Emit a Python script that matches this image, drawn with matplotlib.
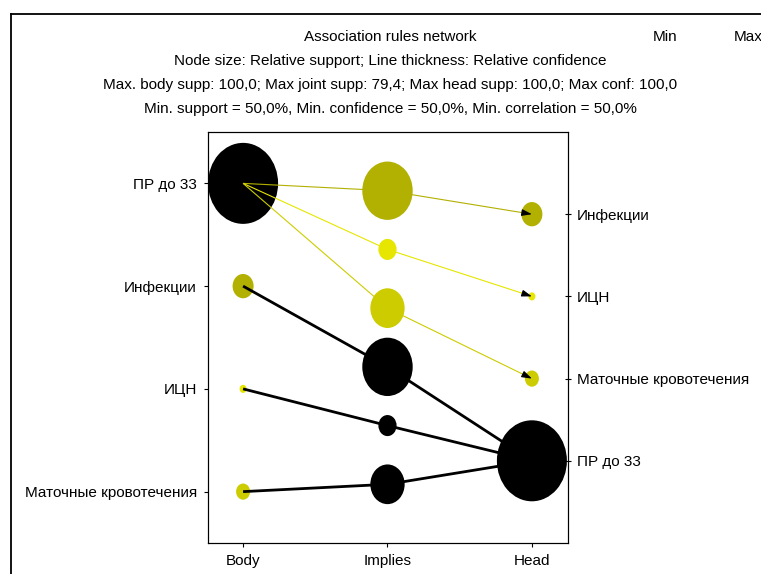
import matplotlib
matplotlib.use('Agg')
import matplotlib.pyplot as plt
from matplotlib.patches import Ellipse
from matplotlib.lines import Line2D

plt.rcParams['font.family'] = ['Liberation Sans', 'DejaVu Sans']

# items, top to bottom
body_labels = ['ПР до 33', 'Инфекции', 'ИЦН', 'Маточные кровотечения']
head_labels = ['Инфекции', 'ИЦН', 'Маточные кровотечения', 'ПР до 33']
body_supp = [100, 30, 10, 20]
head_supp = [30, 10, 20, 100]
body_colors = ['#000000', '#b2b000', '#e6e600', '#cccc00']
head_colors = ['#b2b000', '#e6e600', '#cccc00', '#000000']

# rules: (body index, head index), joint support, confidence colour, line width
rule_body = [0, 0, 0, 1, 2, 3]
rule_head = [0, 1, 2, 3, 3, 3]
rule_supp = [72, 26, 49, 72, 26, 49]
rule_colors = ['#b2b000', '#e6e600', '#cccc00', '#000000', '#000000', '#000000']
rule_width = [0.8, 0.8, 0.8, 2.0, 2.0, 2.0]

FS = 11

fig = plt.figure(figsize=(7.61, 5.74), dpi=100)
ax = fig.add_axes([208/761, 1-543/574, 360/761, 411/574])
x0, x1 = 0.757, 3.25
ax.set_xlim(x0, x1)
ax.set_ylim(0, 1)

# node size scale (data units per support %)
wx = 0.70 / 100 * (x1 - x0) / 360 * 100
hy = 0.81 / 100 / 411 * 100

nb = len(body_labels)
nr = len(rule_body)
body_y = [(nb - i - 0.5) / nb for i in range(nb)]
head_y = [(nb - i) / (nb + 1) for i in range(nb)]
impl_y = [(nr - i) / (nr + 1) for i in range(nr)]

def node(x, y, s, c, z):
    ax.add_patch(Ellipse((x, y), s * wx, s * hy, color=c, zorder=z, lw=0))

for i in range(nb):
    node(1, body_y[i], body_supp[i], body_colors[i], 1)
    node(3, head_y[i], head_supp[i], head_colors[i], 1)

for k in range(nr):
    by = body_y[rule_body[k]]
    hyk = head_y[rule_head[k]]
    ax.plot([1, 2, 3], [by, impl_y[k], hyk], color=rule_colors[k],
            lw=rule_width[k], zorder=2, solid_capstyle='butt')
    if rule_width[k] < 1:
        sx = 3 - 0.06
        sy = hyk + (impl_y[k] - hyk) * 0.06
        ax.annotate('', xy=(3, hyk), xytext=(sx, sy),
                    arrowprops=dict(arrowstyle='-|>,head_length=0.6,head_width=0.2',
                                    color='black', lw=0.8, shrinkA=0, shrinkB=0),
                    zorder=3)
    node(2, impl_y[k], rule_supp[k], rule_colors[k], 4)

ax.set_xticks([1, 2, 3])
ax.set_xticklabels(['Body', 'Implies', 'Head'], fontsize=FS)
ax.set_yticks(body_y)
ax.set_yticklabels(body_labels, fontsize=FS)
ax.tick_params(axis='both', direction='out', length=3, width=0.8, pad=5)
ax.tick_params(axis='x', pad=5)

ax2 = ax.twinx()
ax2.set_ylim(0, 1)
ax2.set_yticks(head_y)
ax2.set_yticklabels(head_labels, fontsize=FS)
ax2.tick_params(axis='y', direction='inout', length=5, width=0.8, pad=4)
for a in (ax, ax2):
    for sp in a.spines.values():
        sp.set_linewidth(0.8)

cx = 390 / 761
titles = ['Association rules network',
          'Node size: Relative support; Line thickness: Relative confidence',
          'Max. body supp: 100,0; Max joint supp: 79,4; Max head supp: 100,0; Max conf: 100,0',
          'Min. support = 50,0%, Min. confidence = 50,0%, Min. correlation = 50,0%']
for i, t in enumerate(titles):
    fig.text(cx, 1 - (37 + 24 * i) / 574, t, ha='center', va='center', fontsize=FS)
fig.text(665 / 761, 1 - 37 / 574, 'Min', ha='center', va='center', fontsize=FS)
fig.text(734 / 761, 1 - 37 / 574, 'Max', ha='left', va='center', fontsize=FS)

# outer frame
fig.add_artist(Line2D([11/761, 11/761], [0, 1 - 14/574], color='black', lw=1.3))
fig.add_artist(Line2D([11/761, 1], [1 - 14/574, 1 - 14/574], color='black', lw=1.3))

fig.savefig('out.png', dpi=100)
